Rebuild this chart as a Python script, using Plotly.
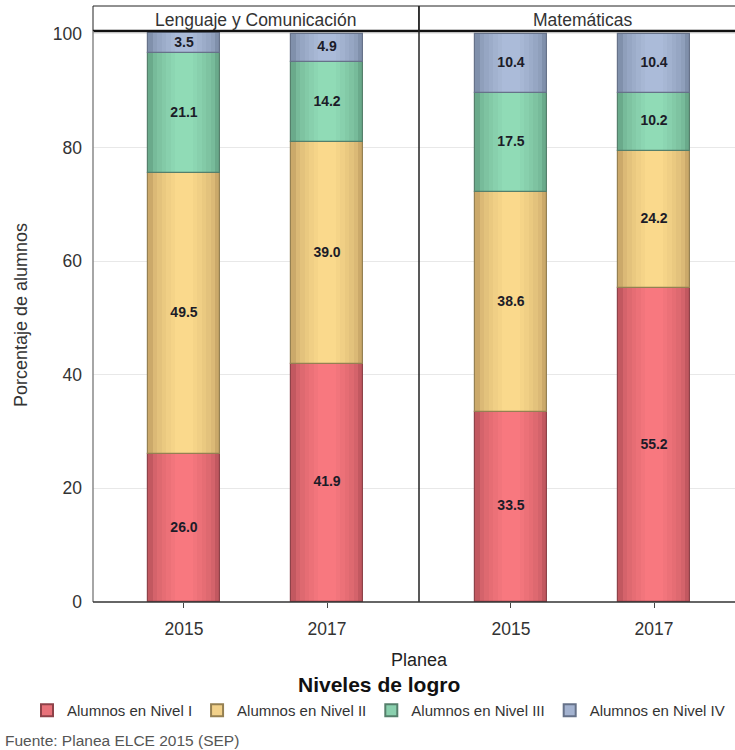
import numpy as np
import plotly.graph_objects as go

years = ["2015", "2017"]
panels = ["Lenguaje y Comunicación", "Matemáticas"]
levels = ["Alumnos en Nivel I", "Alumnos en Nivel II", "Alumnos en Nivel III", "Alumnos en Nivel IV"]
lenguaje = {
    "Alumnos en Nivel I": [26.0, 41.9],
    "Alumnos en Nivel II": [49.5, 39.0],
    "Alumnos en Nivel III": [21.1, 14.2],
    "Alumnos en Nivel IV": [3.5, 4.9],
}
matematicas = {
    "Alumnos en Nivel I": [33.5, 55.2],
    "Alumnos en Nivel II": [38.6, 24.2],
    "Alumnos en Nivel III": [17.5, 10.2],
    "Alumnos en Nivel IV": [10.4, 10.4],
}
y_ticks = [0, 20, 40, 60, 80, 100]

center_colors = ["#F8787F", "#FAD98C", "#90DBB6", "#ABBBD9"]
edge_shades = ["#C25860", "#CBA96A", "#6AAA8B", "#8090AB"]
legend_colors = ["#E8727A", "#F2D18A", "#8AD0AE", "#A4B3D0"]
outline_colors = ["#8E4249", "#958052", "#557F6B", "#667289"]

W, H = 735, 750
FONT = "Liberation Sans, Arial, sans-serif"
BAR_W = 0.5
N_LAYERS = 7


def px_x(p):
    return p / W


def px_y(p):
    return (H - p) / H


def hex2rgb(h):
    h = h.lstrip("#")
    return np.array([int(h[i:i + 2], 16) for i in (0, 2, 4)], dtype=float)


def blend(a, b, t):
    c = hex2rgb(a) * (1 - t) + hex2rgb(b) * t
    return "rgb(%d,%d,%d)" % tuple(np.round(c).astype(int))


fig = go.Figure()

# legend entries
for i, lv in enumerate(levels):
    fig.add_trace(go.Bar(x=[None], y=[None], name=lv, xaxis="x", yaxis="y",
                         marker=dict(color=legend_colors[i], line=dict(color=outline_colors[i], width=1.5)),
                         showlegend=True, hoverinfo="skip"))

for d, xa in [(lenguaje, "x"), (matematicas, "x2")]:
    vals = np.array([d[lv] for lv in levels])
    bases = np.vstack([np.zeros(vals.shape[1]), np.cumsum(vals, axis=0)[:-1]])
    for i, lv in enumerate(levels):
        for k in range(N_LAYERS):
            t = k / (N_LAYERS - 1)
            w = BAR_W * (1 - 0.75 * t)
            col = blend(edge_shades[i], center_colors[i], t ** 0.6)
            fig.add_trace(go.Bar(x=years, y=vals[i], base=bases[i], xaxis=xa, yaxis="y",
                                 width=w, marker=dict(color=col, line=dict(width=0)),
                                 showlegend=False, hoverinfo="skip"))
        fig.add_trace(go.Bar(x=years, y=vals[i], base=bases[i], xaxis=xa, yaxis="y",
                             width=BAR_W, name=lv,
                             marker=dict(color="rgba(0,0,0,0)", line=dict(color=outline_colors[i], width=1.2)),
                             showlegend=False))
    for i, lv in enumerate(levels):
        fig.add_trace(go.Scatter(x=years, y=bases[i] + vals[i] / 2, xaxis=xa, yaxis="y",
                                 mode="text", text=["%.1f" % v for v in vals[i]],
                                 textfont=dict(family=FONT, size=14, color="#1c1c28", weight="bold"),
                                 showlegend=False, hoverinfo="skip"))

left_l, mid, right_r = 93, 419, 746
plot_top, plot_bot = 31, 602
strip_top = 6

axis_common = dict(type="category", showgrid=False, ticks="outside", ticklen=5, tickcolor="#444",
                   tickfont=dict(size=17.5, color="#333"), zeroline=False, showline=False,
                   automargin=False, ticklabelstandoff=6)

fig.update_layout(
    width=W, height=H, margin=dict(l=0, r=0, t=0, b=0),
    paper_bgcolor="white", plot_bgcolor="white",
    barmode="overlay", bargap=0,
    font=dict(family=FONT, color="#333"),
    xaxis=dict(domain=[px_x(left_l), px_x(mid)], range=[-0.636, 1.643], anchor="y", **axis_common),
    xaxis2=dict(domain=[px_x(mid), 1.0], range=[-0.643, 1.566], anchor="y", **axis_common),
    yaxis=dict(domain=[px_y(plot_bot), px_y(plot_top)], range=[0, 100.5],
               tickvals=y_ticks, ticks="", showgrid=True, gridcolor="#E8E8E8", gridwidth=1,
               tickfont=dict(size=17.5, color="#333"), zeroline=False, showline=False,
               automargin=False, ticklabelstandoff=10),
    legend=dict(orientation="h", x=px_x(27), xanchor="left", y=px_y(694), yanchor="top",
                font=dict(size=15, color="#333"), traceorder="normal",
                itemsizing="constant", bgcolor="rgba(0,0,0,0)"),
)

shapes = []
for x0, x1 in [(left_l, mid), (mid, right_r)]:
    shapes.append(dict(type="rect", xref="paper", yref="paper",
                       x0=px_x(x0), x1=px_x(x1), y0=px_y(plot_top), y1=px_y(strip_top),
                       line=dict(color="#222", width=1), fillcolor="white", layer="above"))
shapes.append(dict(type="line", xref="paper", yref="paper", x0=px_x(left_l), x1=1.0,
                   y0=px_y(plot_top), y1=px_y(plot_top), line=dict(color="#111", width=2.5)))
shapes.append(dict(type="line", xref="paper", yref="paper", x0=px_x(left_l), x1=px_x(left_l),
                   y0=px_y(plot_bot), y1=px_y(plot_top), line=dict(color="#888", width=1.5)))
shapes.append(dict(type="line", xref="paper", yref="paper", x0=px_x(mid), x1=px_x(mid),
                   y0=px_y(plot_bot), y1=px_y(strip_top), line=dict(color="#222", width=1.5)))
shapes.append(dict(type="line", xref="paper", yref="paper", x0=px_x(left_l), x1=1.0,
                   y0=px_y(plot_bot), y1=px_y(plot_bot), line=dict(color="#333", width=1.5)))
fig.update_layout(shapes=shapes)

annotations = []
for (x0, x1), t in zip([(left_l, mid), (mid, right_r)], panels):
    annotations.append(dict(text=t, xref="paper", yref="paper", x=px_x((x0 + x1) / 2),
                            y=px_y((strip_top + plot_top) / 2 + 1), showarrow=False,
                            font=dict(size=17.5, color="#333"), xanchor="center", yanchor="middle"))
annotations.append(dict(text="Porcentaje de alumnos", xref="paper", yref="paper", x=px_x(21),
                        y=px_y(315), textangle=-90, showarrow=False,
                        font=dict(size=18, color="#333"), xanchor="center", yanchor="middle"))
annotations.append(dict(text="Planea", xref="paper", yref="paper", x=px_x(419), y=px_y(660),
                        showarrow=False, font=dict(size=18, color="#222"), yanchor="middle"))
annotations.append(dict(text="<b>Niveles de logro</b>", xref="paper", yref="paper", x=px_x(379),
                        y=px_y(684), showarrow=False, font=dict(size=21, color="#111"), yanchor="middle"))
annotations.append(dict(text="Fuente: Planea ELCE 2015 (SEP)", xref="paper", yref="paper", x=px_x(3),
                        y=px_y(740), showarrow=False, font=dict(size=15.5, color="#555"),
                        xanchor="left", yanchor="middle"))
fig.update_layout(annotations=annotations)

fig.write_html("out.html")
